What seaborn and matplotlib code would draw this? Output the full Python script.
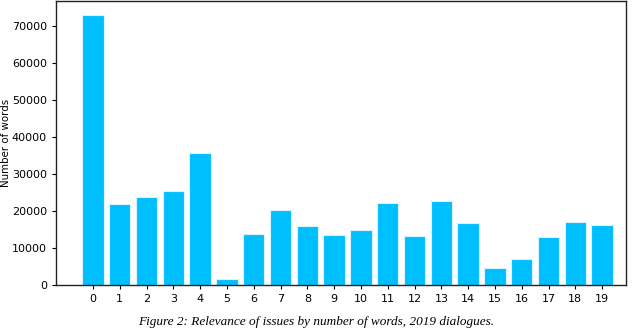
import matplotlib
matplotlib.use("Agg")
import matplotlib.pyplot as plt
import pandas as pd
import seaborn as sns

sns.set_style("ticks")
plt.rcParams["font.family"] = ["DejaVu Sans"]
plt.rcParams["text.color"] = "black"
plt.rcParams["xtick.color"] = "black"
plt.rcParams["ytick.color"] = "black"
plt.rcParams["axes.labelcolor"] = "black"

categories = [str(i) for i in range(20)]
words = [73000, 21800, 23700, 25500, 35700, 1700, 13800, 20200, 16000, 13400,
         14800, 22100, 13200, 22700, 16700, 4700, 7000, 13000, 17000, 16150]

df = pd.DataFrame({"issue": categories, "words": words})

fig = plt.figure(figsize=(6.4, 3.31), dpi=100)
ax = fig.add_axes([0.0875, 0.139, 0.891, 0.858])
sns.barplot(data=df, x="issue", y="words", order=categories, color="#00BFFF",
            saturation=1, width=0.8, edgecolor="#d8f4ff", linewidth=0.8, ax=ax)

ax.set_xlim(-1.38, 19.9)
ax.set_ylim(0, 76800)
ax.set_xlabel("")
ax.set_ylabel("Number of words", fontsize=7.4)
ax.yaxis.set_label_coords(-0.079, 0.5)
ax.tick_params(labelsize=8.0, length=3, width=0.8)
for s in ax.spines.values():
    s.set_visible(True)
    s.set_color("#222222")
    s.set_linewidth(1.0)

fig.text(0.494, 0.008, "Figure 2: Relevance of issues by number of words, 2019 dialogues.",
         ha="center", va="bottom", fontsize=9.5, style="italic", family="Liberation Serif")

fig.savefig("out.png", dpi=100)
